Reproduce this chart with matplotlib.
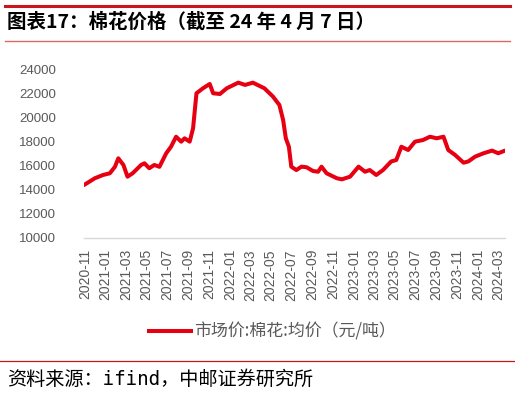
import matplotlib
matplotlib.use("Agg")
import matplotlib.pyplot as plt
import matplotlib.dates as mdates
from matplotlib.lines import Line2D
import pandas as pd

plt.rcParams["font.family"] = ["Noto Sans CJK SC", "DejaVu Sans"]

# ── Data ─────────────────────────────────────────────────────────────────────
DATES = [
    "2020-10-29", "2020-11-30", "2020-12-24", "2021-01-13", "2021-01-28",
    "2021-02-07", "2021-02-22", "2021-03-06", "2021-03-21", "2021-04-15",
    "2021-04-25", "2021-05-09", "2021-05-24", "2021-06-08", "2021-06-28",
    "2021-07-12", "2021-07-27", "2021-08-11", "2021-08-21", "2021-09-05",
    "2021-09-15", "2021-09-25", "2021-10-14", "2021-11-03", "2021-11-13",
    "2021-12-03", "2021-12-23", "2022-01-26", "2022-02-15", "2022-03-10",
    "2022-04-13", "2022-05-08", "2022-05-27", "2022-06-07", "2022-06-15",
    "2022-06-24", "2022-07-01", "2022-07-16", "2022-07-31", "2022-08-15",
    "2022-09-03", "2022-09-18", "2022-09-28", "2022-10-13", "2022-11-12",
    "2022-11-27", "2022-12-21", "2023-01-15", "2023-02-03", "2023-02-17",
    "2023-03-08", "2023-03-28", "2023-04-21", "2023-05-06", "2023-05-21",
    "2023-06-10", "2023-06-30", "2023-07-24", "2023-08-13", "2023-09-02",
    "2023-09-22", "2023-10-06", "2023-10-26", "2023-11-20", "2023-12-04",
    "2023-12-24", "2024-01-18", "2024-02-12", "2024-03-01", "2024-03-21",
]
PRICES = [
    14390, 14950, 15220, 15360, 15900,
    16600, 16050, 15080, 15360, 16050,
    16190, 15780, 16050, 15900, 17020,
    17560, 18390, 17980, 18260, 17980,
    19090, 21990, 22400, 22760, 21990,
    21930, 22400, 22870, 22680, 22870,
    22400, 21720, 21020, 19780, 18260,
    17560, 15910, 15630, 15910, 15860,
    15550, 15490, 15910, 15360, 14950,
    14860, 15080, 15910, 15490, 15630,
    15220, 15630, 16340, 16460, 17560,
    17290, 17980, 18120, 18390, 18260,
    18390, 17290, 16880, 16240, 16340,
    16740, 17020, 17240, 17020, 17240,
]
Y_TICKS = [10000, 12000, 14000, 16000, 18000, 20000, 22000, 24000]
TITLE = "图表17：棉花价格（截至 24 年 4 月 7 日）"
LEGEND = "市场价:棉花:均价（元/吨）"
SOURCE = "资料来源：ifind，中邮证券研究所"

# ── Style ────────────────────────────────────────────────────────────────────
LINE_CLR = "#e60012"
RULE_CLR = "#c8161d"
TEXT_CLR = "#595959"
AXIS_CLR = "#d9d9d9"

dates = pd.to_datetime(DATES)

fig = plt.figure(figsize=(5.15, 3.93), dpi=100, facecolor="white")

# header / footer rules
fig.add_artist(Line2D([0.01, 0.99], [1 - 6 / 393] * 2, color=RULE_CLR, lw=2.2))
fig.add_artist(Line2D([0.01, 0.99], [1 - 41 / 393] * 2, color="#e06666", lw=1.0))
fig.add_artist(Line2D([0.0, 1.0], [1 - 361 / 393] * 2, color=RULE_CLR, lw=0.9))

fig.text(7 / 515, 1 - 22 / 393, TITLE, fontsize=14, fontweight="bold",
         color="black", va="center", ha="left")
fig.text(7 / 515, 1 - 379 / 393, SOURCE, fontsize=13.8, color="black",
         va="center", ha="left",
         family=["DejaVu Sans Mono", "Noto Sans CJK SC"])

ax = fig.add_axes([84 / 515, 1 - 238 / 393, 421 / 515, 169 / 393])
ax.plot(dates, PRICES, color=LINE_CLR, lw=2.9, solid_joinstyle="round",
        solid_capstyle="round")

ax.set_ylim(10000, 24000)
ax.set_yticks(Y_TICKS)
ax.set_xlim(dates[0], dates[-1])
ax.xaxis.set_major_locator(mdates.MonthLocator(bymonth=[1, 3, 5, 7, 9, 11]))
ax.xaxis.set_major_formatter(mdates.DateFormatter("%Y-%m"))

for s in ("top", "right", "left"):
    ax.spines[s].set_visible(False)
ax.spines["bottom"].set_color(AXIS_CLR)
ax.spines["bottom"].set_linewidth(1.0)

ax.tick_params(axis="y", length=0, pad=20, labelsize=9.5, colors=TEXT_CLR)
ax.tick_params(axis="x", length=0, pad=8, labelsize=10, colors=TEXT_CLR,
               labelrotation=90)
for lbl in ax.get_xticklabels() + ax.get_yticklabels():
    lbl.set_fontfamily("Liberation Sans")

# legend drawn by hand below the axes
fig.add_artist(Line2D([149 / 515, 191 / 515], [1 - 331 / 393] * 2,
                      color=LINE_CLR, lw=2.9))
fig.text(194 / 515, 1 - 331 / 393, LEGEND, fontsize=12.2, color=TEXT_CLR,
         va="center", ha="left")

fig.savefig("out.png", dpi=100, facecolor="white")
